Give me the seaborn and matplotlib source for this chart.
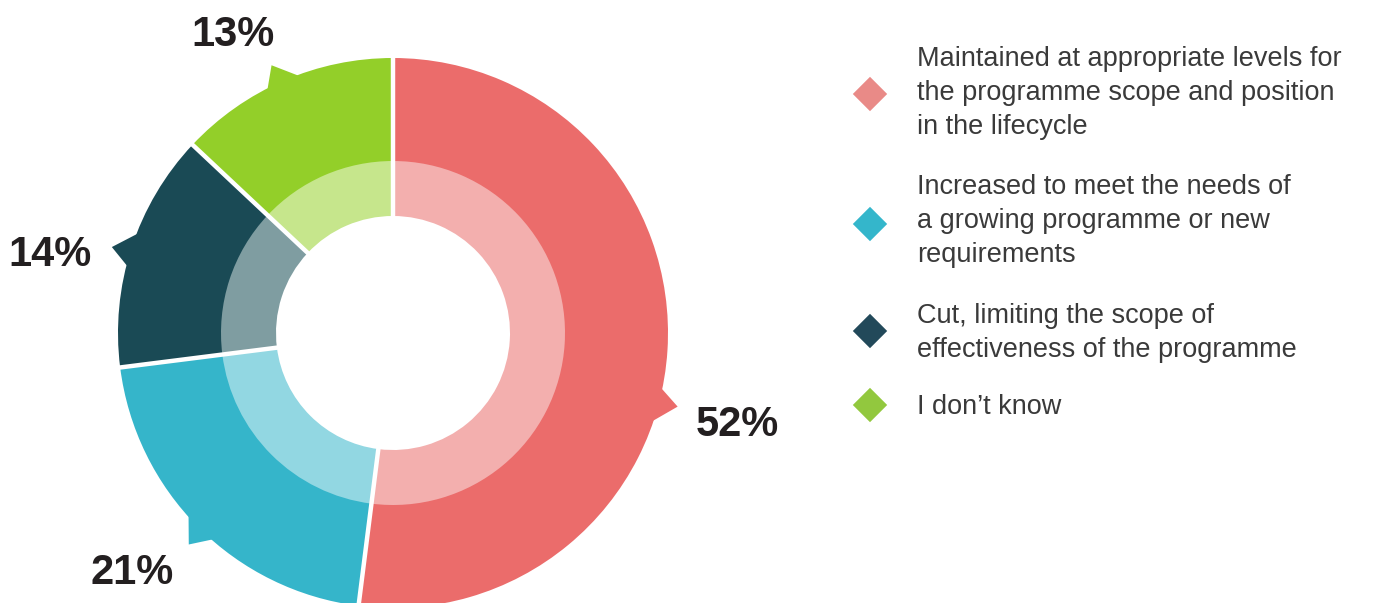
import numpy as np
import matplotlib
matplotlib.use("Agg")
import matplotlib.pyplot as plt
from matplotlib.patches import Polygon
import seaborn as sns

# ---- data ----
categories = [
    "Maintained at appropriate levels for\nthe programme scope and position\nin the lifecycle",
    "Increased to meet the needs of\na growing programme or new\nrequirements",
    "Cut, limiting the scope of\neffectiveness of the programme",
    "I don\u2019t know",
]
values = [52, 21, 14, 13]
pct_labels = ["52%", "21%", "14%", "13%"]
outer_colors = ["#EB6C6B", "#35B5CA", "#1A4A55", "#93CF29"]
inner_colors = ["#F3AFAE", "#92D7E2", "#7F9DA1", "#C6E68C"]
legend_colors = ["#E98A87", "#34B6CB", "#22495A", "#92C83E"]

# ---- layout (pixel coordinates, y up) ----
W, H = 1400, 603
cx, cy = 393, H - 333
R_out, R_mid, R_in = 275, 172, 117
tab_angles = [-15.5, None, None, None]        # None -> wedge mid-angle
label_xy = [(737, H - 425), (132, H - 573), (50, H - 255), (233, H - 35)]
legend_text_y = [H - 93, H - 221, H - 333, H - 407]
legend_diamond_y = [H - 94, H - 224, H - 331, H - 405]

sns.set_theme(style="white")
plt.rcParams["font.family"] = ["Liberation Sans", "DejaVu Sans"]

fig = plt.figure(figsize=(W / 100, H / 100), dpi=100)
ax = fig.add_axes([0, 0, 1, 1])

wp = dict(edgecolor="none", linewidth=0, antialiased=True)
ax.pie(values, colors=outer_colors, radius=R_out, center=(cx, cy),
       startangle=90, counterclock=False,
       wedgeprops=dict(width=R_out - R_mid + 1, **wp), frame=True)
ax.pie(values, colors=inner_colors, radius=R_mid, center=(cx, cy),
       startangle=90, counterclock=False,
       wedgeprops=dict(width=R_mid - R_in, **wp), frame=True)
ax.set_xlim(0, W)
ax.set_ylim(0, H)
ax.set_aspect("equal")
ax.set_axis_off()

# callout tabs on outer ring + white separators
total = sum(values)
start = 90.0
for v, col, ta in zip(values, outer_colors, tab_angles):
    span = v / total * 360
    mid = start - span / 2
    a = mid if ta is None else ta
    pts = []
    for ang, r in [(a + 5.0, R_out - 8), (a + 1.0, R_out + 19), (a - 5.0, R_out - 8)]:
        t = np.deg2rad(ang)
        pts.append((cx + r * np.cos(t), cy + r * np.sin(t)))
    ax.add_patch(Polygon(pts, closed=True, facecolor=col, edgecolor="none", zorder=0.5))
    t = np.deg2rad(start)
    ax.plot([cx + (R_in - 2) * np.cos(t), cx + (R_out + 2) * np.cos(t)],
            [cy + (R_in - 2) * np.sin(t), cy + (R_out + 2) * np.sin(t)],
            color="white", lw=3.2, solid_capstyle="butt", zorder=3)
    start -= span

# percentage labels
for (x, y), lab in zip(label_xy, pct_labels):
    ax.text(x, y, lab, ha="center", va="center", fontsize=30,
            fontweight="bold", color="#231F20")

# legend
for col, cat, ty, dy in zip(legend_colors, categories, legend_text_y, legend_diamond_y):
    ax.scatter([870], [dy], marker="D", s=17.5 ** 2, color=col, edgecolors="none")
    ax.text(917, ty, cat, ha="left", va="center", fontsize=19.5,
            color="#3a3a3a", linespacing=1.38)

fig.savefig("out.png", dpi=100, facecolor="white")
